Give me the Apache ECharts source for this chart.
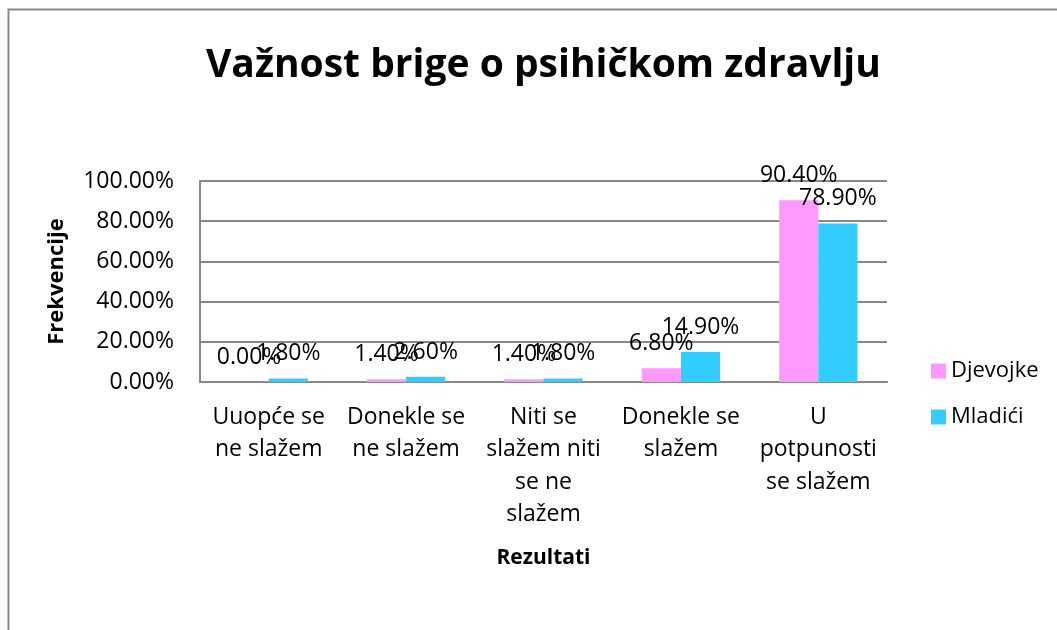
<!DOCTYPE html>
<html>
<head>
<meta charset="utf-8">
<script src="https://cdn.jsdelivr.net/npm/echarts@6/dist/echarts.min.js"></script>
<style>
  html, body { margin: 0; padding: 0; background: #fff; }
  #chart { width: 1057px; height: 630px; }
</style>
</head>
<body>
<div id="chart"></div>
<script>
const categories = [
  'Uuopće se\nne slažem',
  'Donekle se\nne slažem',
  'Niti se\nslažem niti\nse ne\nslažem',
  'Donekle se\nslažem',
  'U\npotpunosti\nse slažem'
]
const djevojke = [0.0, 1.4, 1.4, 6.8, 90.4]
const mladici = [1.8, 2.6, 1.8, 14.9, 78.9]
const seriesNames = ['Djevojke', 'Mladići']

const font = '"Open Sans", "Noto Sans", sans-serif'
const chart = echarts.init(document.getElementById('chart'))

const labelOpt = {
  show: true,
  position: 'top',
  distance: 13,
  color: '#000',
  fontSize: 23,
  fontFamily: font,
  formatter: p => p.value.toFixed(2) + '%'
}

chart.setOption({
  animation: false,
  graphic: [
    {
      type: 'rect',
      shape: { x: 8.5, y: 9.5, width: 1070, height: 640 },
      style: { fill: 'none', stroke: '#888', lineWidth: 2 }
    }
  ],
  title: {
    text: 'Važnost brige o psihičkom zdravlju',
    left: 201,
    top: 41,
    textStyle: { fontFamily: font, fontWeight: 'bold', fontSize: 39, color: '#000' }
  },
  legend: {
    orient: 'vertical',
    left: 926,
    top: 355,
    itemWidth: 15,
    itemHeight: 15,
    itemGap: 24,
    icon: 'rect',
    data: seriesNames,
    textStyle: { fontFamily: font, fontSize: 22, color: '#000' }
  },
  grid: { left: 200, right: 170, top: 181, bottom: 248 },
  xAxis: {
    type: 'category',
    data: categories,
    name: 'Rezultati',
    nameLocation: 'middle',
    nameGap: 166,
    nameTextStyle: { fontFamily: font, fontWeight: 'bold', fontSize: 21, color: '#000' },
    axisLine: { lineStyle: { color: '#888', width: 2 } },
    axisTick: { show: false },
    axisLabel: {
      interval: 0,
      margin: 19,
      fontFamily: font,
      fontSize: 23,
      lineHeight: 32.5,
      color: '#000',
      align: 'center'
    }
  },
  yAxis: {
    type: 'value',
    min: 0,
    max: 100,
    interval: 20,
    name: 'Frekvencije',
    nameLocation: 'middle',
    nameGap: 132,
    nameRotate: 90,
    nameTextStyle: { fontFamily: font, fontWeight: 'bold', fontSize: 22, color: '#000' },
    axisLine: { show: true, lineStyle: { color: '#888', width: 2 } },
    axisTick: { show: false },
    splitLine: { lineStyle: { color: '#888', width: 2 } },
    axisLabel: {
      margin: 26,
      fontFamily: font,
      fontSize: 23,
      color: '#000',
      formatter: v => v.toFixed(2) + '%'
    }
  },
  series: [
    {
      name: seriesNames[0],
      type: 'bar',
      data: djevojke,
      barGap: '0%',
      barCategoryGap: '43%',
      itemStyle: { color: '#FF99FF' },
      label: labelOpt
    },
    {
      name: seriesNames[1],
      type: 'bar',
      data: mladici,
      itemStyle: { color: '#33CCFF' },
      label: labelOpt
    }
  ]
})
</script>
</body>
</html>
